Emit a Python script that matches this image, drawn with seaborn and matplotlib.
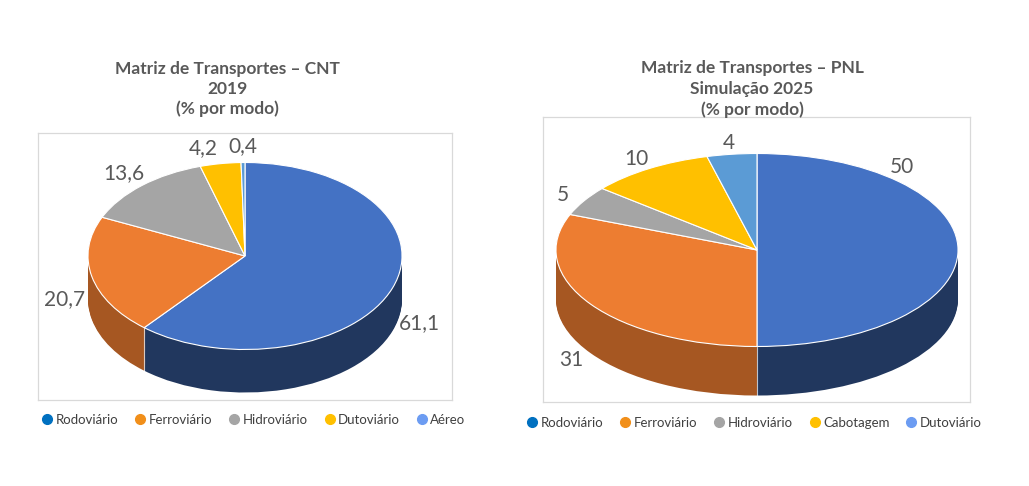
import matplotlib
matplotlib.use("Agg")
import numpy as np
import matplotlib.pyplot as plt
import matplotlib.colors as mcolors
from matplotlib.lines import Line2D
import seaborn as sns

# data
cnt_modes = ["Rodoviário", "Ferroviário", "Hidroviário", "Dutoviário", "Aéreo"]
cnt_values = [61.1, 20.7, 13.6, 4.2, 0.4]
cnt_labels = ["61,1", "20,7", "13,6", "4,2", "0,4"]

pnl_modes = ["Rodoviário", "Ferroviário", "Hidroviário", "Cabotagem", "Dutoviário"]
pnl_values = [50, 31, 5, 10, 4]
pnl_labels = ["50", "31", "5", "10", "4"]

# colours
pie_colors = ["#4472C4", "#ED7D31", "#A5A5A5", "#FFC000", "#5B9BD5"]
side_shade = [0.48, 0.7, 0.65, 0.65, 0.6]
legend_colors = ["#0070C0", "#F18F1A", "#A5A5A5", "#FFC000", "#6C9CF2"]
TXT = "#595959"

sns.set_theme(style="white")
plt.rcParams["font.family"] = ["Lato", "DejaVu Sans"]

W, H = 1029, 486
fig = plt.figure(figsize=(W / 100, H / 100), dpi=100)
fig.patch.set_facecolor("white")


def add_box(x0, y0, x1, y1):
    """axes from a pixel box (top-left origin)"""
    return fig.add_axes([x0 / W, 1 - y1 / H, (x1 - x0) / W, (y1 - y0) / H])


def darken(c, f):
    r, g, b = mcolors.to_rgb(c)
    return (r * f, g * f, b * f)


def pie3d(ax, values, colors, labels, box, center, a, b, depth, label_r=1.18,
          label_angles=None):
    x0, y0, x1, y1 = box
    cx, cy = center
    side = [darken(c, f) for c, f in zip(colors, side_shade)]

    # side of the cylinder: stacked pies shifted down
    n = 40
    for k in range(n, 0, -1):
        ax.pie(values, colors=side, startangle=90, counterclock=False,
               center=(0, -depth * k / n), wedgeprops=dict(linewidth=0))
    wedges, _ = ax.pie(values, colors=colors, startangle=90, counterclock=False,
                       wedgeprops=dict(edgecolor="white", linewidth=0.8))

    # vertical seams on the front side
    for w in wedges:
        t = np.deg2rad(w.theta1)
        if np.sin(t) < -0.02:
            ax.plot([np.cos(t)] * 2, [np.sin(t), np.sin(t) - depth],
                    color="white", lw=0.8, alpha=0.7)

    # data labels
    for i, (w, lab) in enumerate(zip(wedges, labels)):
        mid = (w.theta1 + w.theta2) / 2
        if label_angles and i in label_angles:
            mid = label_angles[i]
        t = np.deg2rad(mid)
        x, y = label_r * np.cos(t), label_r * np.sin(t)
        if y < 0:
            y -= depth * min(1.0, 2 * abs(np.sin(t)))
        ax.text(x, y, lab, ha="center", va="center", fontsize=15, color=TXT)

    ax.set_aspect("auto")
    ax.set_xlim((x0 - cx) / a, (x1 - cx) / a)
    ax.set_ylim((cy - y1) / b, (cy - y0) / b)
    ax.set_frame_on(True)
    for s in ax.spines.values():
        s.set_color("#D9D9D9")
        s.set_linewidth(0.9)
    ax.set_xticks([])
    ax.set_yticks([])


def add_legend(ax, modes, colors, anchor):
    handles = [Line2D([], [], marker="o", linestyle="", markersize=7,
                      color=c, label=m) for m, c in zip(modes, colors)]
    ax.legend(handles=handles, loc="center", bbox_to_anchor=anchor, ncol=5,
              frameon=False, handlelength=0.7, handletextpad=0.3,
              columnspacing=1.3, prop=dict(size=9.5), labelcolor="#404040")


# left: CNT 2019
ax1 = add_box(38, 133, 452, 400)
pie3d(ax1, cnt_values, pie_colors, cnt_labels, (38, 133, 452, 400),
      (245, 256), 157, 93.5, 0.46, label_angles={3: 103})
add_legend(ax1, cnt_modes, legend_colors, (0.522, -0.075))
fig.text(227 / W, 1 - 89 / H, "Matriz de Transportes – CNT\n2019\n(% por modo)",
         ha="center", va="center", fontsize=12.5, fontweight="bold", color=TXT,
         linespacing=1.3)

# right: PNL simulation 2025
ax2 = add_box(543, 117, 970, 402)
pie3d(ax2, pnl_values, pie_colors, pnl_labels, (543, 117, 970, 402),
      (757, 250), 201, 96.5, 0.508, label_r=1.12, label_angles={0: 50})
add_legend(ax2, pnl_modes, legend_colors, (0.496, -0.074))
fig.text(752 / W, 1 - 89 / H, "Matriz de Transportes – PNL\nSimulação 2025\n(% por modo)",
         ha="center", va="center", fontsize=12.5, fontweight="bold", color=TXT,
         linespacing=1.35)

fig.savefig("out.png", dpi=100, facecolor="white")
